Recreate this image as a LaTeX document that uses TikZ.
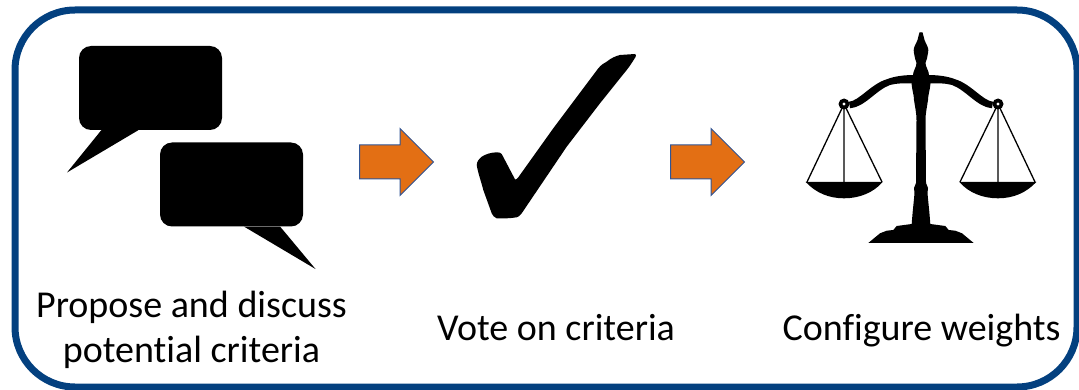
\documentclass[tikz,border=0pt]{standalone}
\usepackage{fontspec}
\setmainfont[Ligatures=NoCommon]{Carlito}
\usetikzlibrary{shapes.arrows}
\definecolor{framecol}{HTML}{03407F}
\definecolor{arrowfill}{HTML}{E36F14}
\definecolor{arrowline}{HTML}{2F5597}
\tikzset{
  frame/.style   = {rectangle, draw=framecol, line width=7pt, rounded corners=60pt},
  bubble/.style  = {rectangle, fill=black, rounded corners=12pt, minimum width=143pt, minimum height=84pt, inner sep=0},
  stepto/.style  = {single arrow, draw=arrowline, fill=arrowfill, line width=1pt, inner xsep=0, inner ysep=16.5pt, minimum height=74pt, single arrow head extend=16.5pt, anchor=tail},
  caption/.style = {font=\fontsize{38}{46}\selectfont, align=center, anchor=base},
  halfscale/.pic = {
    % column, finial and base
    \fill (0.3,32.3) -- (-1.5,32.3) .. controls (-2.5,36) and (-3,38) .. (-3.5,40)
      .. controls (-5,44) and (-7.3,47) .. (-7.3,50) .. controls (-7.3,54) and (-6,56) .. (-6,58.3)
      .. controls (-6,60) and (-4.5,61) .. (-4.5,63) .. controls (-4.5,67) and (-8,71) .. (-8,75)
      -- (-9.5,83.3) .. controls (-9,90) and (-7,95) .. (-7,100) .. controls (-6,107) and (-4.5,113) .. (-4.5,120)
      -- (-5,183) -- (-7,188) -- (-6.5,193) .. controls (-7,200) and (-8.5,212) .. (-9.3,224) -- (-24.3,226)
      -- (-27.7,230) -- (-34.3,230.7) -- (-41,233.3) -- (-52.7,243) -- (0.3,243) -- cycle;
    % beam
    \fill (-72,101.7) .. controls (-62,101) and (-50,84) .. (-34.3,79.3) .. controls (-26,76) and (-16,75) .. (-6,75)
      -- (-6,83.3) .. controls (-16,83.3) and (-24,83) .. (-31,85) .. controls (-45,90) and (-56,107) .. (-71,108.3) -- cycle;
    % hanger and pan
    \draw[line width=1.3pt] (-77,104) -- (-114,182) (-77,104) -- (-77,182) (-77,104) -- (-39,182);
    \fill (-115.3,182) .. controls (-105,193) and (-92,198.3) .. (-77,198.3) .. controls (-62,198.3) and (-48,193) .. (-38.3,182) -- cycle;
    \fill (-77,104) circle (5.5pt);
    \fill[white] (-77,104) circle (1.6pt);
  }
}

\begin{document}
\begin{tikzpicture}[x=1pt,y=-1pt]
  \useasboundingbox (0,0) rectangle (1079,390);
  \node[frame, minimum width=1062pt, minimum height=377pt] (panel) at (546,198.5) {};

  % talk bubbles
  \node[bubble] (talkA) at (150.5,88) {};
  \fill ([xshift=22.5pt]talkA.south west) -- (67,172.5) -- ([xshift=59.5pt]talkA.south west) -- cycle;
  \node[bubble] (talkB) at (231.5,184.5) {};
  \fill ([xshift=-59pt]talkB.south east) -- (315.5,269) -- ([xshift=-23pt]talkB.south east) -- cycle;

  \node[stepto] (stepA) at (359,162) {};
  \node[stepto] (stepB) at (670,162) {};

  % tick
  \fill (476.7,165) .. controls (477,161) and (479,159) .. (481.7,156.7) .. controls (486,154) and (491,152.5) .. (496.7,152.3)
    .. controls (499,152) and (501,153) .. (501.7,154) -- (515,179.3) .. controls (516,180) and (517,179) .. (518.3,177.3)
    -- (553.3,128.3) -- (598.3,68.3) .. controls (601,65) and (604,63) .. (606.7,61.7) .. controls (611,58) and (616,56) .. (620,55)
    -- (635,54) .. controls (636,54.5) and (636,55.5) .. (635.7,56.7) .. controls (633,61) and (630,66) .. (626.7,70)
    -- (600,103.3) -- (566.7,146.7) -- (521.7,213.3) .. controls (520,216) and (518,217) .. (516.7,217.3)
    .. controls (510,218.5) and (503,218.5) .. (496.7,218.3) .. controls (494,217.5) and (493,215.5) .. (491.7,213.3)
    -- (483.3,190) .. controls (481,181) and (478,173) .. (476.7,165) -- cycle;

  % scales
  \pic at (921,0) {halfscale};
  \pic[xscale=-1] at (921,0) {halfscale};

  \node[caption] (propose) at (191.5,317) {Propose and discuss};
  \node[caption] (potential) at (191.5,362) {potential criteria};
  \node[caption] (vote) at (556,340) {Vote on criteria};
  \node[caption] (weights) at (921.5,340) {Configure weights};
\end{tikzpicture}
\end{document}
